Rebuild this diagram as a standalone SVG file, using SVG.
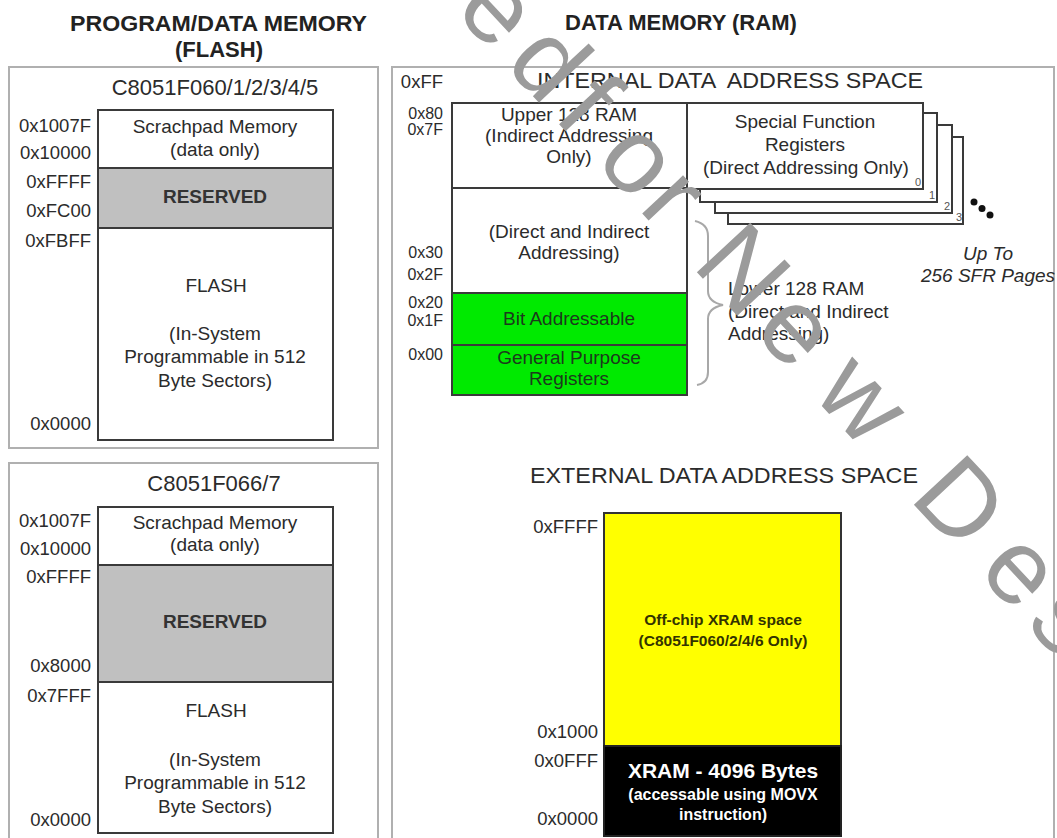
<svg xmlns="http://www.w3.org/2000/svg" width="1057" height="838" viewBox="0 0 1057 838">
<style>
text{font-family:"Liberation Sans",Arial,sans-serif;fill:#2b2b2b}
.t{font-size:22px;font-weight:bold;fill:#222}
.h{font-size:22px;text-anchor:middle}
.lb{font-size:18.5px;text-anchor:end}
.lr{font-size:16px;text-anchor:end}
.b{font-size:19px;text-anchor:middle}
.bb{font-size:19px;font-weight:bold;text-anchor:middle;fill:#333}
.panel{fill:none;stroke:#b0b0b0;stroke-width:2}
.box{fill:#fff;stroke:#3a3a3a;stroke-width:2}
.div{stroke:#3a3a3a;stroke-width:2}
.res{fill:#c0c0c0}
.grn{fill:#00ea00}
.g{fill:#1c3a1c}
.sm{font-size:11px;fill:#555}
.it{font-size:19px;font-style:italic;text-anchor:middle}
.y{font-size:15.5px;font-weight:bold;text-anchor:middle;fill:#333300}
.w{font-weight:bold;text-anchor:middle;fill:#fff}
.brace{fill:none;stroke:#a8a8a8;stroke-width:2}
.wm{font-size:106px;fill:#9b9b9b}
</style>
<rect width="1057" height="838" fill="#fff"/>

<g id="title-flash">
<text class="t" x="70" y="31" textLength="297" lengthAdjust="spacingAndGlyphs">PROGRAM/DATA MEMORY</text>
<text class="t" x="219" y="57" text-anchor="middle">(FLASH)</text>
</g>
<g id="title-ram">
<text class="t" x="565" y="30">DATA MEMORY (RAM)</text>
</g>

<g id="flash-panel-1">
<rect class="panel" x="9" y="67" width="369" height="381"/>
<text class="h" x="215" y="95">C8051F060/1/2/3/4/5</text>
<rect class="box" x="98" y="110" width="235" height="330"/>
<rect class="res" x="98" y="168" width="235" height="60"/>
<line class="div" x1="98" y1="168" x2="333" y2="168"/>
<line class="div" x1="98" y1="228" x2="333" y2="228"/>
<rect x="98" y="110" width="235" height="330" fill="none" stroke="#3a3a3a" stroke-width="2"/>
<text class="b" x="215" y="133">Scrachpad Memory</text>
<text class="b" x="215" y="156">(data only)</text>
<text class="bb" x="215" y="203">RESERVED</text>
<text class="b" x="216" y="292">FLASH</text>
<text class="b" x="215" y="340">(In-System</text>
<text class="b" x="215" y="363">Programmable in 512</text>
<text class="b" x="215" y="387">Byte Sectors)</text>
<text class="lb" x="91" y="132">0x1007F</text>
<text class="lb" x="91" y="159">0x10000</text>
<text class="lb" x="91" y="188">0xFFFF</text>
<text class="lb" x="91" y="217">0xFC00</text>
<text class="lb" x="91" y="247">0xFBFF</text>
<text class="lb" x="91" y="430">0x0000</text>
</g>

<g id="flash-panel-2">
<rect class="panel" x="9" y="463" width="369" height="385"/>
<text class="h" x="214" y="491">C8051F066/7</text>
<rect class="box" x="98" y="507" width="235" height="326"/>
<rect class="res" x="98" y="565" width="235" height="117"/>
<line class="div" x1="98" y1="565" x2="333" y2="565"/>
<line class="div" x1="98" y1="682" x2="333" y2="682"/>
<rect x="98" y="507" width="235" height="326" fill="none" stroke="#3a3a3a" stroke-width="2"/>
<text class="b" x="215" y="529">Scrachpad Memory</text>
<text class="b" x="215" y="551">(data only)</text>
<text class="bb" x="215" y="628">RESERVED</text>
<text class="b" x="216" y="717">FLASH</text>
<text class="b" x="215" y="766">(In-System</text>
<text class="b" x="215" y="789">Programmable in 512</text>
<text class="b" x="215" y="813">Byte Sectors)</text>
<text class="lb" x="91" y="527">0x1007F</text>
<text class="lb" x="91" y="555">0x10000</text>
<text class="lb" x="91" y="583">0xFFFF</text>
<text class="lb" x="91" y="672">0x8000</text>
<text class="lb" x="91" y="702">0x7FFF</text>
<text class="lb" x="91" y="826">0x0000</text>
</g>

<g id="ram-panel">
<rect class="panel" x="392" y="67" width="662" height="781"/>
</g>

<g id="internal-ram">
<text x="537" y="88" style="font-size:22px" textLength="386" lengthAdjust="spacingAndGlyphs" xml:space="preserve">INTERNAL DATA  ADDRESS SPACE</text>
<rect class="box" x="452" y="103" width="235" height="292"/>
<rect class="grn" x="452" y="293" width="235" height="102"/>
<line class="div" x1="452" y1="188" x2="687" y2="188"/>
<line class="div" x1="452" y1="293" x2="687" y2="293"/>
<line class="div" x1="452" y1="345" x2="687" y2="345"/>
<rect x="452" y="103" width="235" height="292" fill="none" stroke="#3a3a3a" stroke-width="2"/>
<text class="b" x="569" y="121">Upper 128 RAM</text>
<text class="b" x="569" y="142">(Indirect Addressing</text>
<text class="b" x="569" y="163">Only)</text>
<text class="b" x="569" y="238">(Direct and Indirect</text>
<text class="b" x="569" y="259">Addressing)</text>
<text class="b g" x="569" y="325">Bit Addressable</text>
<text class="b g" x="569" y="364">General Purpose</text>
<text class="b g" x="569" y="385">Registers</text>
<text class="lb" x="443" y="88">0xFF</text>
<text class="lr" x="443" y="119">0x80</text>
<text class="lr" x="443" y="135">0x7F</text>
<text class="lr" x="443" y="258">0x30</text>
<text class="lr" x="443" y="280">0x2F</text>
<text class="lr" x="443" y="308">0x20</text>
<text class="lr" x="443" y="326">0x1F</text>
<text class="lr" x="443" y="360">0x00</text>
</g>

<g id="sfr-pages">
<rect class="box" x="728" y="137" width="235" height="87"/>
<rect class="box" x="715" y="125" width="237" height="88"/>
<rect class="box" x="700" y="113" width="237" height="89"/>
<rect class="box" x="687" y="103" width="236" height="86"/>
<text class="b" x="805" y="128">Special Function</text>
<text class="b" x="805" y="151">Registers</text>
<text class="b" x="806" y="174">(Direct Addressing Only)</text>
<text class="sm" x="915" y="186">0</text>
<text class="sm" x="929" y="199">1</text>
<text class="sm" x="944" y="210">2</text>
<text class="sm" x="956" y="221">3</text>
<circle cx="974" cy="202" r="3.5" fill="#111"/>
<circle cx="982" cy="208.5" r="3.5" fill="#111"/>
<circle cx="990" cy="215" r="3.5" fill="#111"/>
<text class="it" x="988" y="260">Up To</text>
<text class="it" x="988" y="282">256 SFR Pages</text>
</g>

<g id="lower-ram-label">
<text x="728" y="295" style="font-size:19px">Lower 128 RAM</text>
<text x="728" y="318" style="font-size:19px">(Direct and Indirect</text>
<text x="728" y="340" style="font-size:19px">Addressing)</text>
</g>

<g id="external-ram">
<text x="530" y="483" style="font-size:22px" textLength="388" lengthAdjust="spacingAndGlyphs">EXTERNAL DATA ADDRESS SPACE</text>
<rect x="604" y="513" width="237" height="233" fill="#ffff00" stroke="#333" stroke-width="2"/>
<rect x="604" y="746" width="237" height="90" fill="#000" stroke="#222" stroke-width="2"/>
<text class="y" x="723" y="625">Off-chip XRAM space</text>
<text class="y" x="723" y="646">(C8051F060/2/4/6 Only)</text>
<text class="w" x="723" y="778" style="font-size:21px">XRAM - 4096 Bytes</text>
<text class="w" x="723" y="800" style="font-size:16px">(accessable using MOVX</text>
<text class="w" x="723" y="820" style="font-size:16px">instruction)</text>
<text class="lb" x="598" y="533">0xFFFF</text>
<text class="lb" x="598" y="738">0x1000</text>
<text class="lb" x="598" y="767">0x0FFF</text>
<text class="lb" x="598" y="825">0x0000</text>
</g>

<g id="connectors">
<path class="brace" d="M695,221 Q708,224 708,236 L708,291 Q708,302 723,305 Q708,308 708,319 L708,372 Q708,383 697,385"/>
</g>

<g id="watermark">
<text class="wm" transform="translate(430,-17) rotate(47)" x="36 110 170 182 242 306 350 385 474 561 650 703 803 874" y="2">ed for New Des</text>
</g>
</svg>
